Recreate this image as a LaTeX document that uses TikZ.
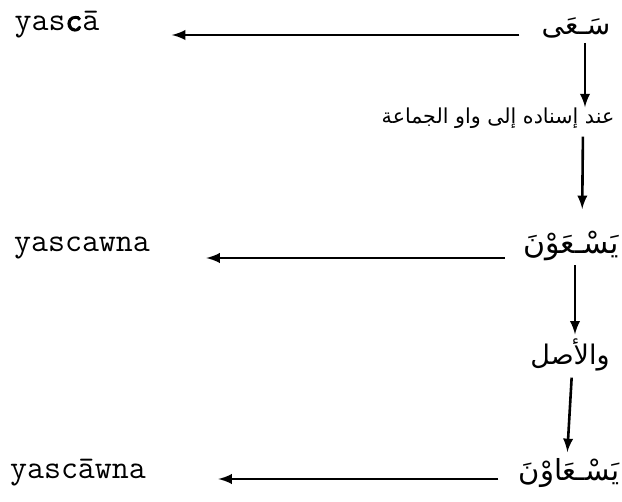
\documentclass[tikz,border=0pt]{standalone}
\usepackage{fontspec}
\newfontfamily\arabicfont[Script=Arabic]{DejaVu Sans}
\newfontfamily\heavytt[FakeBold=3]{Latin Modern Mono}
\TeXXeTstate=1
\usetikzlibrary{arrows}

\tikzset{
  lat/.style={inner sep=0pt, font=\ttfamily\fontsize{16.5}{19}\selectfont},
  ar/.style={inner sep=0pt, font=\arabicfont\fontsize{15}{18}\selectfont},
  arlab/.style={inner sep=0pt, font=\arabicfont\fontsize{10.3}{13}\selectfont},
  harrow/.style={line width=1.3pt, -latex},
  varrow/.style={line width=1.3pt, -latex}
}

\begin{document}
\begin{tikzpicture}[x=0.5pt,y=-0.5pt]
          \useasboundingbox (0,0) rectangle (622,502);
          % transliterations
          \node[lat] (lat1) at (57,25) {yas{\heavytt c}ā};
          \node[lat] (lat2) at (82,248) {yascawna};
          \node[lat] (lat3) at (78,473) {yascāwna};
          % arabic forms and labels
          \node[ar, font=\arabicfont\fontsize{14}{17}\selectfont] (ar1) at (576,28) {\beginR سَـعَى\endR};
          \node[arlab] (lab1) at (498,118) {\beginR عند إسناده إلى واو الجماعة\endR};
          \node[ar] (ar2) at (571,246) {\beginR يَسْـعَوْنَ\endR};
          \node[arlab, font=\arabicfont\fontsize{13.5}{16}\selectfont] (lab2) at (570,355) {\beginR والأصل\endR};
          \node[ar, font=\arabicfont\fontsize{14.5}{17}\selectfont] (ar3) at (569,473) {\beginR يَسْـعَاوْنَ\endR};
          % horizontal arrows
          \draw[harrow, shorten <=11pt, shorten >=36pt] (ar1.west |- 0,35) -- (lat1.east |- 0,35);
          \draw[harrow, shorten <=9pt, shorten >=28pt] (ar2.west |- 0,258) -- (lat2.east |- 0,258);
          \draw[harrow, shorten <=10pt, shorten >=36pt] (ar3.west |- 0,479) -- (lat3.east |- 0,479);
          % vertical arrows
          \draw[varrow, shorten <=2pt] ([xshift=4.5pt]ar1.south) -- ([xshift=43.5pt]lab1.north);
          \draw[varrow, shorten <=4pt, shorten >=11pt] ([xshift=42.5pt]lab1.south) -- ([xshift=5.5pt]ar2.north);
          \draw[varrow, shorten <=2pt, shorten >=2pt] ([xshift=2pt]ar2.south) -- ([xshift=2.5pt]lab2.north);
          \draw[varrow, shorten <=3pt, shorten >=3pt] ([xshift=1pt]lab2.south) -- ([xshift=-1pt]ar3.north);
      \end{tikzpicture}
\end{document}
